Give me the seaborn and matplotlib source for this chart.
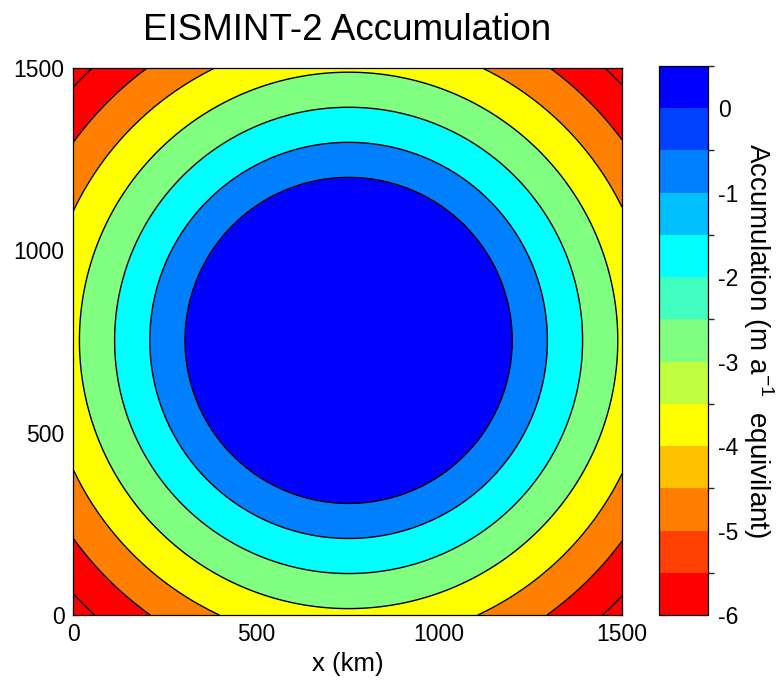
import numpy as np
import matplotlib
matplotlib.use("Agg")
import matplotlib.pyplot as plt
import matplotlib.cm as cm
from matplotlib.colors import ListedColormap, BoundaryNorm
import seaborn as sns

# Radial surface mass balance: a = min(M_max, S_b * (R_el - d))
M_MAX = 0.5        # m/a
S_B = 0.0104       # m/a per km
R_EL = 447.0       # km
X_CENTER = 753.0   # km
Y_CENTER = 753.0   # km
DOMAIN_KM = 1500.0

# contour levels (m/a) and the fill colour of each interval between them
contour_levels = [-6, -5, -4, -3, -2, -1, 0]
fill_levels = [-7, -6, -5, -4, -3, -2, -1, 0, 1]
fill_colors = ["#ff0000", "#ff0000", "#ff8000", "#ffff00",
               "#80ff80", "#00ffff", "#0080ff", "#0000ff"]

# colour bar bands (0.5 m/a steps) and their colours
band_edges = [-6, -5.5, -5, -4.5, -4, -3.5, -3, -2.5, -2, -1.5, -1, -0.5, 0, 0.5]
band_colors = ["#ff0000", "#ff4000", "#ff8000", "#ffc000", "#ffff00",
               "#c0ff40", "#80ff80", "#40ffc0", "#00ffff", "#00c0ff",
               "#0080ff", "#0040ff", "#0000ff"]
cbar_ticks = [-6, -5, -4, -3, -2, -1, 0]
axis_ticks = [0, 500, 1000, 1500]

sns.set_theme(style="ticks")
plt.rcParams["font.family"] = ["Liberation Sans", "DejaVu Sans"]
plt.rcParams["mathtext.fontset"] = "custom"
plt.rcParams["mathtext.rm"] = "Liberation Sans"
plt.rcParams["text.color"] = "black"
plt.rcParams["axes.labelcolor"] = "black"

x = np.linspace(0, DOMAIN_KM, 501)
y = np.linspace(0, DOMAIN_KM, 501)
X, Y = np.meshgrid(x, y)
dist = np.hypot(X - X_CENTER, Y - Y_CENTER)
accum = np.minimum(M_MAX, S_B * (R_EL - dist))

fig = plt.figure(figsize=(7.82, 6.93), dpi=100)
ax = fig.add_axes([73 / 782, 1 - 615 / 693, 549 / 782, 547 / 693])
cax = fig.add_axes([659 / 782, 1 - 615 / 693, 49 / 782, 549 / 693])

ax.contourf(X, Y, accum, levels=fill_levels, colors=fill_colors)
ax.contour(X, Y, accum, levels=contour_levels, colors="black",
           linewidths=1.0, linestyles="solid")

ax.set_xlim(0, DOMAIN_KM)
ax.set_ylim(0, DOMAIN_KM)
ax.set_aspect("auto")
ax.set_xticks(axis_ticks)
ax.set_yticks(axis_ticks)
ax.tick_params(direction="in", length=5, width=0.8, top=True, right=True,
               labelsize=16.5, colors="black", pad=6)
for sp in ax.spines.values():
    sp.set_color("black")
    sp.set_linewidth(0.9)
ax.set_xlabel("x (km)", fontsize=18.5, labelpad=4)
ax.set_title("EISMINT-2 Accumulation", fontsize=26.5, pad=20)

cmap = ListedColormap(band_colors)
norm = BoundaryNorm(band_edges, cmap.N)
cb = fig.colorbar(cm.ScalarMappable(norm=norm, cmap=cmap), cax=cax,
                  ticks=cbar_ticks)
cb.outline.set_edgecolor("black")
cb.outline.set_linewidth(0.9)
cax.tick_params(direction="in", length=5, width=0.8, left=True, right=True,
                labelsize=16.5, colors="black", pad=7)
cax.set_yticklabels([str(t) for t in cbar_ticks])
cax.set_ylabel("Accumulation (m a$^{-1}$  equivilant)", rotation=270,
               fontsize=20, labelpad=27)

fig.savefig("out.png", dpi=100, facecolor="white")
